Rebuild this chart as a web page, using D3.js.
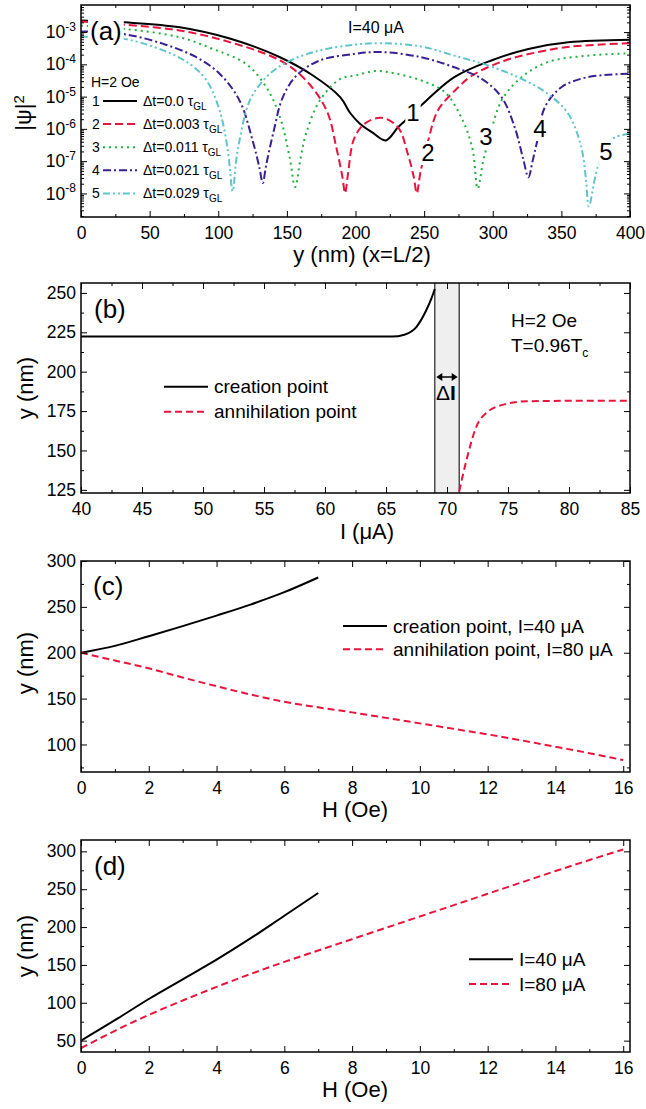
<!DOCTYPE html>
<html>
<head>
<meta charset="utf-8">
<script src="https://cdn.jsdelivr.net/npm/d3@7"></script>
<style>
body{margin:0;background:#fff;}
</style>
</head>
<body>
<script>
// ---- (a) |psi|^2 vs y (nm), x=L/2, H=2 Oe, I=40 uA
var psi1 = [[0,2.3e-3],[32,2.0e-3],[72,1.41e-3],[109,6.2e-4],[145,1.66e-4],[169,4.5e-5],[189,9.5e-6],[196,3.16e-6],[203,1.48e-6],[212,7.9e-7],[222,4.4e-7],[231,1.12e-6],[240,2.5e-6],[247,4.9e-6],[272,4.0e-5],[299,1.32e-4],[326,3.0e-4],[355,4.8e-4],[400,5.75e-4]];
var psi2 = [[0,2.14e-3],[31,1.7e-3],[72,1.12e-3],[109,4.8e-4],[145,1.32e-4],[164,3.16e-5],[179,3.7e-6],[186,2.7e-7],[190.5,3.16e-8],[192.4,1.02e-8],[194.5,4.0e-8],[199,5.0e-7],[207,1.48e-6],[219,2.2e-6],[231,1.12e-6],[238,1.74e-7],[242.5,3.16e-8],[244.6,1.02e-8],[247.5,5.0e-8],[253,4.4e-7],[260,3.7e-6],[272.5,1.55e-5],[285,4.5e-5],[309,1.32e-4],[333,2.4e-4],[357,3.55e-4],[400,4.5e-4]];
var psi3 = [[0,1.58e-3],[31,1.26e-3],[72,6.9e-4],[96,3.0e-4],[120,1.05e-4],[135,1.95e-5],[145,2.3e-6],[152,1.32e-7],[156,1.58e-8],[160,1.26e-7],[164,7.2e-7],[174,7.6e-6],[189,3.55e-5],[200,4.5e-5],[214,6.2e-5],[229,5.2e-5],[248,3.16e-5],[265,1.38e-5],[277,2.3e-6],[285,2.7e-7],[289,1.41e-8],[293,1.0e-7],[297,4.4e-7],[306.5,7.6e-6],[321,4.0e-5],[340,1.17e-4],[369,1.86e-4],[400,2.2e-4]];
var psi4 = [[0,1.05e-3],[31,8.7e-4],[60,4.3e-4],[84,1.66e-4],[101,5.1e-5],[115.5,7.6e-6],[125,4.4e-7],[130,6.3e-8],[132.4,2.1e-8],[135,7.9e-8],[140,7.2e-7],[147,9.5e-6],[157,4.5e-5],[174,1.32e-4],[199,2.1e-4],[219,2.4e-4],[248,1.66e-4],[272,8.1e-5],[292,3.55e-5],[306.5,9.5e-6],[316,1.12e-6],[322,1.26e-7],[326,3.16e-8],[329,1.0e-7],[332,3.5e-7],[338,4.7e-6],[350,1.95e-5],[369,4.0e-5],[400,5.1e-5]];
var psi5 = [[0,7.2e-4],[31,6.2e-4],[60,2.7e-4],[79,1.05e-4],[91.5,3.16e-5],[101,3.7e-6],[107,2.14e-7],[110.5,1.17e-8],[113,1.0e-7],[115.5,4.4e-7],[123,7.6e-6],[135,4.0e-5],[150,1.17e-4],[174,2.7e-4],[200,4.1e-4],[219,4.5e-4],[248,3.55e-4],[272,1.86e-4],[297,9.1e-5],[321,3.55e-5],[340,1.23e-5],[355,2.95e-6],[364.5,2.7e-7],[368,2.5e-8],[370,4.0e-9],[376.4,6.5e-8],[384,3.5e-7],[389,5.5e-7],[400,7.1e-7]];
var aLegend = ['\u0394t=0.0 \u03c4', '\u0394t=0.003 \u03c4', '\u0394t=0.011 \u03c4', '\u0394t=0.021 \u03c4', '\u0394t=0.029 \u03c4'];
var aXTicks = [0,50,100,150,200,250,300,350,400];
var aYTicks = [1e-3,1e-4,1e-5,1e-6,1e-7,1e-8];

// ---- (b) creation / annihilation point vs I, H=2 Oe
var bCreation = [[40,222.3],[60,222.3],[65.5,222.3],[66.5,223.5],[67.5,228.5],[68.3,239],[68.7,246],[69,252.5]];
var bAnnihilation = [[71,124],[71.6,144],[72.4,165],[73.25,174],[74.9,179.6],[76.5,181.2],[80,181.5],[85,181.5]];
var bGap = [69,71];
var bXTicks = [40,45,50,55,60,65,70,75,80,85];
var bYTicks = [125,150,175,200,225,250];

// ---- (c) vs H
var cH1 = [0,1,2,3,4,5,6,7];
var cCreation = [200,207.5,218,229,240.5,252.5,266,282];
var cH2 = [0,1,2,3,4,5,6,7,8,9,10,11,12,13,14,15,16];
var cAnnihilation = [200,191.5,183,173,163.5,154.5,146.5,140.5,135,129,123,117,111,104.5,97.5,90.5,83];

// ---- (d) vs H
var dH1 = [0,1,2,3,4,5,6,7];
var dI40 = [50,77,105,131,157,185,215,245];
var dH2 = [0,1,2,3,4,5,6,7,8,9,10,11,12,13,14,15,16];
var dI80 = [40,63,84,103,121,138,154,169,184,199,214,229,244,259,274,288.5,302.5];

var hTicks = [0,2,4,6,8,10,12,14,16];
var cYTicks = [100,150,200,250,300];
var dYTicks = [50,100,150,200,250,300];

var FONT = '"Liberation Sans", Arial, Helvetica, sans-serif';
var RED = '#e8143c', GREEN = '#1fb23c', PURPLE = '#3a2090', CYAN = '#5ec6c8';
var L = 81, R = 630;

var svg = d3.select('body').append('svg')
	.attr('width',646).attr('height',1109)
	.style('font-family',FONT);

function panel(id, top, bottom, x, y, xMaj, xMin, yMaj, yMin){
	var g = svg.append('g').attr('id',id);
	g.append('clipPath').attr('id','clip-'+id).append('rect')
		.attr('x',L).attr('y',top).attr('width',R-L).attr('height',bottom-top);
	var plot = g.append('g').attr('clip-path','url(#clip-'+id+')'),
		labels = g.append('g'),
		ax = g.append('g');
	function put(axis, tx, ty){
		return ax.append('g').attr('transform','translate('+tx+','+ty+')').call(axis)
			.attr('font-family',FONT).attr('font-size',17.5);
	}
	put(d3.axisBottom(x).tickValues(xMaj).tickSize(-6).tickPadding(10).tickSizeOuter(0), 0, bottom);
	put(d3.axisBottom(x).tickValues(xMin).tickSize(-3).tickFormat(''), 0, bottom);
	put(d3.axisTop(x).tickValues(xMaj).tickSize(-6).tickFormat(''), 0, top);
	put(d3.axisTop(x).tickValues(xMin).tickSize(-3).tickFormat(''), 0, top);
	var yl = put(d3.axisLeft(y).tickValues(yMaj).tickSize(-6).tickPadding(5).tickSizeOuter(0), L, 0);
	put(d3.axisLeft(y).tickValues(yMin).tickSize(-3).tickFormat(''), L, 0);
	put(d3.axisRight(y).tickValues(yMaj).tickSize(-6).tickFormat(''), R, 0);
	put(d3.axisRight(y).tickValues(yMin).tickSize(-3).tickFormat(''), R, 0);
	ax.selectAll('.domain').remove();
	ax.append('rect').attr('x',L).attr('y',top).attr('width',R-L).attr('height',bottom-top)
		.attr('fill','none').attr('stroke','#000').attr('stroke-width',1.5);
	return {plot:plot, labels:labels, yl:yl};
}

function curve(layer, x, y, data, color, dash, kind){
	layer.append('path').datum(data)
		.attr('d', d3.line().x(function(d){ return x(d[0]); }).y(function(d){ return y(d[1]); }).curve(kind || d3.curveMonotoneX))
		.attr('fill','none').attr('stroke',color).attr('stroke-width',2)
		.attr('stroke-dasharray',dash);
}

function text(layer, x, y, str, size, anchor){
	return layer.append('text').attr('x',x).attr('y',y).attr('font-size',size)
		.attr('text-anchor',anchor || 'start').text(str);
}

function boxed(layer, x, y, str, size, anchor, pad){
	var t = text(layer, x, y, str, size, anchor),
		b = t.node().getBBox();
	layer.insert('rect', function(){ return t.node(); })
		.attr('x',b.x-pad).attr('y',b.y+2).attr('width',b.width+2*pad).attr('height',b.height-3)
		.attr('fill','#fff');
	return t;
}

function xTitle(x, y, str){ return text(svg, x, y, str, 22, 'middle'); }
function yTitle(x, y, str){
	return svg.append('text').attr('transform','translate('+x+','+y+') rotate(-90)')
		.attr('text-anchor','middle').attr('font-size',22).text(str);
}

function legendRow(layer, x1, x2, yy, color, dash, label, size){
	layer.append('line').attr('x1',x1).attr('x2',x2).attr('y1',yy).attr('y2',yy)
		.attr('stroke',color).attr('stroke-width',2).attr('stroke-dasharray',dash);
	return text(layer, x2+6, yy+size*0.35, label, size);
}

// ================= (a)
var aX = d3.scaleLinear().domain([0,400]).range([L,R]);
var aY = d3.scaleLog().domain([1.86e-9, 6.9e-3]).range([217,5]);
var aYMinor = [];
d3.range(-9,-2).forEach(function(e){
	d3.range(2,10).forEach(function(k){
		var v = k*Math.pow(10,e);
		if (v > 1.86e-9 && v < 6.9e-3) aYMinor.push(v);
	});
});
var pa = panel('a', 5, 217, aX, aY, aXTicks, d3.range(25,400,50), aYTicks, aYMinor);
pa.yl.selectAll('.tick text').text(null).each(function(d){
	var t = d3.select(this);
	t.append('tspan').text('10');
	t.append('tspan').attr('dy','-0.6em').attr('font-size',12).text(Math.round(Math.log10(d)));
});

var aSeries = [
	{d:psi1, c:'#000', dash:null},
	{d:psi2, c:RED, dash:'8,4'},
	{d:psi3, c:GREEN, dash:'2,4'},
	{d:psi4, c:PURPLE, dash:'8,3,2,3'},
	{d:psi5, c:CYAN, dash:'7,3,2,3,2,3'}
];
aSeries.forEach(function(s){ curve(pa.plot, aX, aY, s.d, s.c, s.dash, d3.curveCatmullRom.alpha(0.5)); });

boxed(pa.labels, 90, 40, '(a)', 26, 'start', 2);
text(pa.labels, 348, 33, 'I=40 \u03bcA', 16);
text(pa.labels, 91, 87, 'H=2 Oe', 14);
aSeries.forEach(function(s,i){
	var yy = 101 + i*23.1;
	text(pa.labels, 92, yy+5, String(i+1), 14);
	var t = legendRow(pa.labels, 103, 137, yy, s.c, s.dash, aLegend[i], 14);
	t.append('tspan').attr('dy',4).attr('font-size',10).text('GL');
});
[['1',413,121],['2',428,161],['3',486,145],['4',540,137],['5',606,160]].forEach(function(l){
	boxed(pa.labels, l[1], l[2], l[0], 24, 'middle', 1);
});
xTitle(362, 262, 'y (nm) (x=L/2)');
var psiT = svg.append('text').attr('transform','translate(31,113) rotate(-90)')
	.attr('text-anchor','middle').attr('font-size',22);
psiT.append('tspan').text('|\u03c8|');
psiT.append('tspan').attr('dy','-0.45em').attr('font-size',15).text('2');

// ================= (b)
var bX = d3.scaleLinear().domain([40,85]).range([L,R]);
var bY = d3.scaleLinear().domain([123,256.3]).range([493,283]);
var pb = panel('b', 283, 493, bX, bY, bXTicks, d3.range(42.5,85,5), bYTicks, d3.range(137.5,256,25));
pb.plot.append('rect').attr('x',bX(bGap[0])).attr('y',283).attr('width',bX(bGap[1])-bX(bGap[0])).attr('height',210)
	.attr('fill','#efefef');
bGap.forEach(function(v){
	pb.plot.append('line').attr('x1',bX(v)).attr('x2',bX(v)).attr('y1',283).attr('y2',493)
		.attr('stroke','#222').attr('stroke-width',1.2);
});
curve(pb.plot, bX, bY, bCreation, '#000', null);
curve(pb.plot, bX, bY, bAnnihilation, RED, '7,4');
var ay = 377, ax1 = bX(bGap[0])+1.5, ax2 = bX(bGap[1])-1.5;
pb.labels.append('line').attr('x1',ax1+4).attr('x2',ax2-4).attr('y1',ay).attr('y2',ay).attr('stroke','#000').attr('stroke-width',1.5);
pb.labels.append('polygon').attr('points',[[ax1,ay],[ax1+6,ay-4],[ax1+6,ay+4]].join(' ')).attr('fill','#000');
pb.labels.append('polygon').attr('points',[[ax2,ay],[ax2-6,ay-4],[ax2-6,ay+4]].join(' ')).attr('fill','#000');
var dI = text(pb.labels, 446, 400, '\u0394', 21, 'middle');
dI.append('tspan').attr('font-weight','bold').text('I');
text(pb.labels, 94, 318, '(b)', 26);
legendRow(pb.labels, 164, 208, 386.7, '#000', null, 'creation point', 19);
legendRow(pb.labels, 164, 208, 411.7, RED, '7,4', 'annihilation point', 19);
text(pb.labels, 511, 326.5, 'H=2 Oe', 19);
var tc = text(pb.labels, 511, 351.5, 'T=0.96T', 19);
tc.append('tspan').attr('dy',5).attr('font-size',12).text('c');
xTitle(367, 539, 'I (\u03bcA)');
yTitle(33, 388, 'y (nm)');

// ================= (c)
var cX = d3.scaleLinear().domain([0,16.2]).range([L,R]);
var cY = d3.scaleLinear().domain([70,300]).range([772,561]);
var pc = panel('c', 561, 772, cX, cY, hTicks, d3.range(1,17,2), cYTicks, d3.range(75,300,50));
curve(pc.plot, cX, cY, d3.zip(cH1, cCreation), '#000', null);
curve(pc.plot, cX, cY, d3.zip(cH2, cAnnihilation), RED, '7,4');
text(pc.labels, 93, 595, '(c)', 26);
legendRow(pc.labels, 343, 387, 626, '#000', null, 'creation point, I=40 \u03bcA', 19);
legendRow(pc.labels, 343, 387, 649.3, RED, '7,4', 'annihilation point, I=80 \u03bcA', 19);
xTitle(355, 817, 'H (Oe)');
yTitle(33, 663, 'y (nm)');

// ================= (d)
var dX = d3.scaleLinear().domain([0,16.2]).range([L,R]);
var dY = d3.scaleLinear().domain([35,315]).range([1052,840]);
var pd = panel('d', 840, 1052, dX, dY, hTicks, d3.range(1,17,2), dYTicks, d3.range(75,300,50));
curve(pd.plot, dX, dY, d3.zip(dH1, dI40), '#000', null);
curve(pd.plot, dX, dY, d3.zip(dH2, dI80), RED, '7,4');
text(pd.labels, 94, 875, '(d)', 26);
legendRow(pd.labels, 469, 513, 959.3, '#000', null, 'I=40 \u03bcA', 19);
legendRow(pd.labels, 469, 513, 984, RED, '7,4', 'I=80 \u03bcA', 19);
xTitle(355, 1097, 'H (Oe)');
yTitle(33, 946, 'y (nm)');
</script>
</body>
</html>
